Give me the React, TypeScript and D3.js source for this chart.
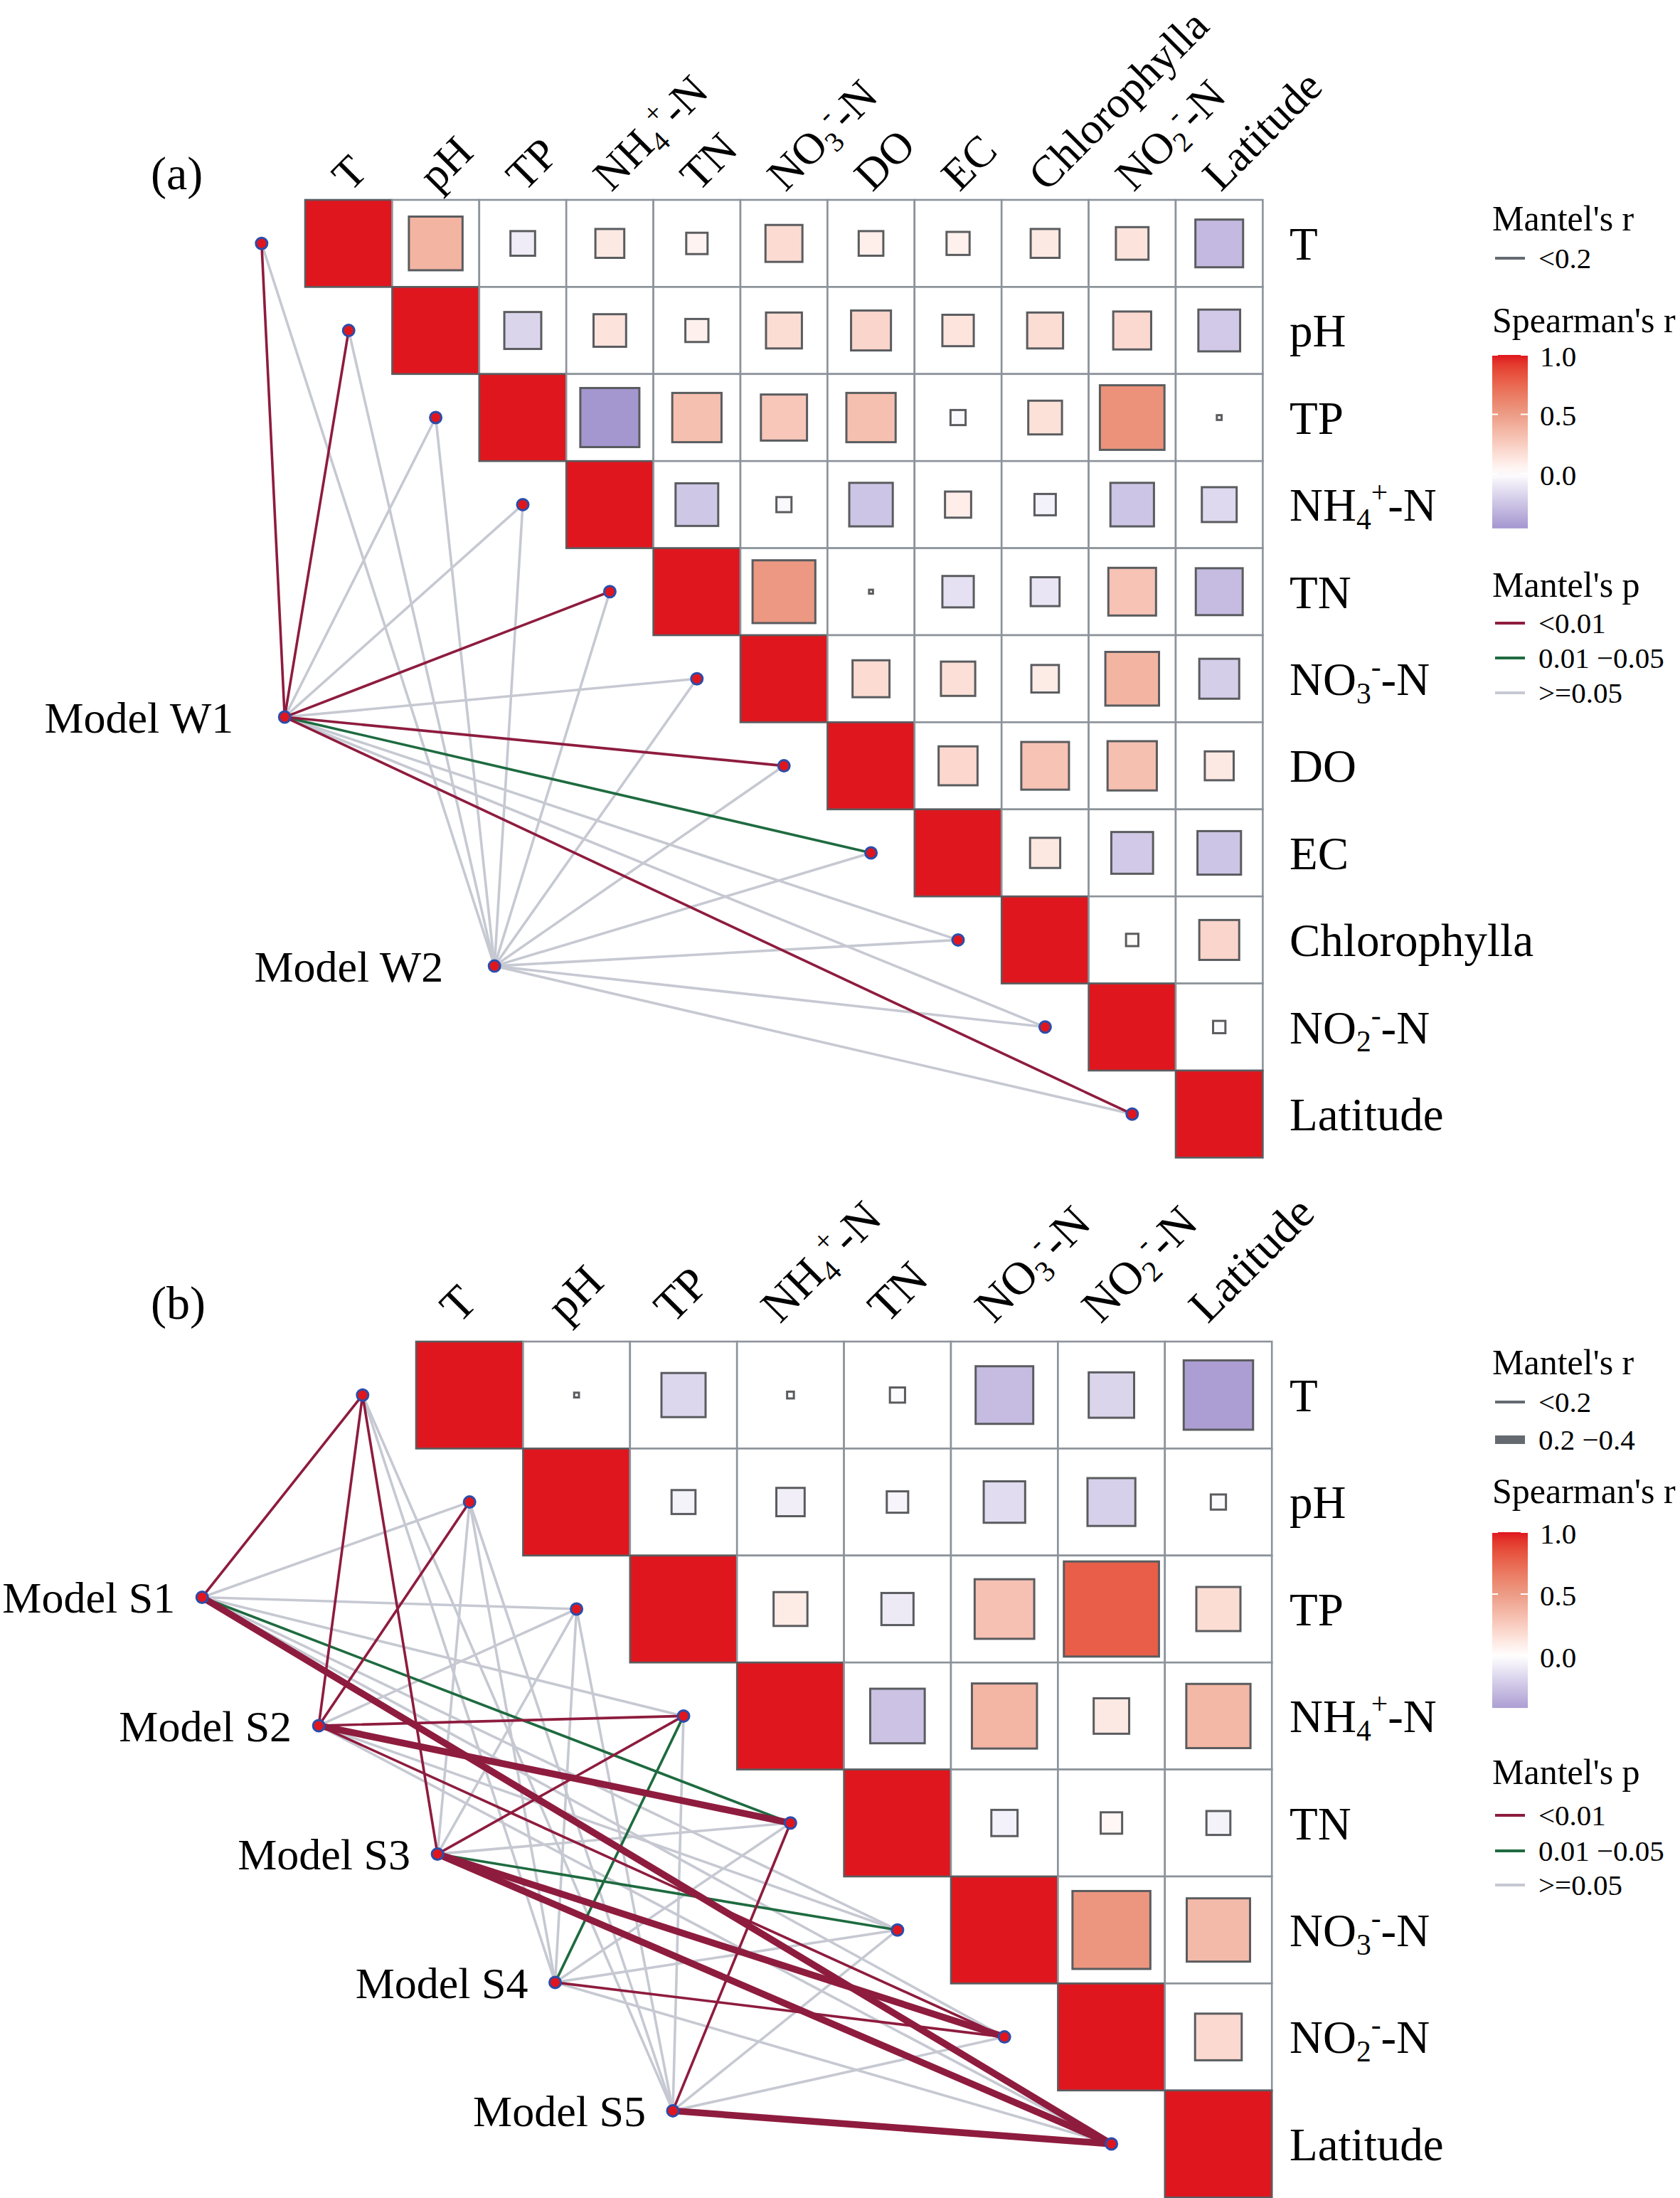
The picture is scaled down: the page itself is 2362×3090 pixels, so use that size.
import React from "react";
import * as d3 from "d3";

const W = 2362;
const H = 3090;
const FONT = "'Liberation Serif','Times New Roman',Times,serif";

// ---------------- Panel (a) data ----------------
const varsA = ["T", "pH", "TP", "NH_4^+-N", "TN", "NO_3^--N", "DO", "EC", "Chlorophylla", "NO_2^--N", "Latitude"];
// Spearman's r, upper triangle, row i holds columns j > i
const corrA: number[][] = [
  [0.38, -0.08, 0.11, 0.06, 0.18, 0.08, 0.07, 0.11, 0.14, -0.30],
  [-0.18, 0.14, 0.07, 0.17, 0.21, 0.13, 0.17, 0.19, -0.23],
  [-0.46, 0.32, 0.28, 0.32, -0.03, 0.15, 0.55, 0.003],
  [-0.24, -0.03, -0.25, 0.09, -0.06, -0.25, -0.16],
  [0.52, 0.002, -0.13, -0.11, 0.30, -0.29],
  [0.18, 0.155, 0.10, 0.38, -0.21],
  [0.20, 0.30, 0.32, 0.11],
  [0.12, -0.23, -0.25],
  [0.02, 0.21],
  [-0.02],
];
const modelsA = ["Model W1", "Model W2"];
const mantelPA: string[][] = [
  ["<0.01", "<0.01", ">=0.05", ">=0.05", "<0.01", ">=0.05", "<0.01", "0.01-0.05", ">=0.05", ">=0.05", "<0.01"],
  [">=0.05", ">=0.05", ">=0.05", ">=0.05", ">=0.05", ">=0.05", ">=0.05", ">=0.05", ">=0.05", ">=0.05", ">=0.05"],
];
const mantelRA: string[][] = [
  ["<0.2", "<0.2", "<0.2", "<0.2", "<0.2", "<0.2", "<0.2", "<0.2", "<0.2", "<0.2", "<0.2"],
  ["<0.2", "<0.2", "<0.2", "<0.2", "<0.2", "<0.2", "<0.2", "<0.2", "<0.2", "<0.2", "<0.2"],
];
const legendRA = ["<0.2"];

// ---------------- Panel (b) data ----------------
const varsB = ["T", "pH", "TP", "NH_4^+-N", "TN", "NO_3^--N", "NO_2^--N", "Latitude"];
const corrB: number[][] = [
  [0.002, -0.17, 0.004, -0.02, -0.29, -0.18, -0.42],
  [-0.05, -0.07, -0.04, -0.15, -0.2, -0.02],
  [0.10, -0.09, 0.31, 0.79, 0.17],
  [-0.26, 0.37, 0.11, 0.36],
  [-0.06, 0.04, -0.05],
  [0.53, 0.35],
  [0.19],
];
const modelsB = ["Model S1", "Model S2", "Model S3", "Model S4", "Model S5"];
const mantelPB: string[][] = [
  ["<0.01", ">=0.05", ">=0.05", ">=0.05", "0.01-0.05", ">=0.05", ">=0.05", "<0.01"],
  ["<0.01", "<0.01", ">=0.05", "<0.01", "<0.01", ">=0.05", "<0.01", ">=0.05"],
  ["<0.01", ">=0.05", ">=0.05", "<0.01", ">=0.05", "0.01-0.05", "<0.01", "<0.01"],
  [">=0.05", ">=0.05", ">=0.05", "0.01-0.05", ">=0.05", ">=0.05", "<0.01", ">=0.05"],
  [">=0.05", ">=0.05", ">=0.05", ">=0.05", "<0.01", ">=0.05", ">=0.05", "<0.01"],
];
const mantelRB: string[][] = [
  ["<0.2", "<0.2", "<0.2", "<0.2", "<0.2", "<0.2", "<0.2", "0.2-0.4"],
  ["<0.2", "<0.2", "<0.2", "<0.2", "0.2-0.4", "<0.2", "<0.2", "<0.2"],
  ["<0.2", "<0.2", "<0.2", "<0.2", "<0.2", "<0.2", "0.2-0.4", "0.2-0.4"],
  ["<0.2", "<0.2", "<0.2", "<0.2", "<0.2", "<0.2", "<0.2", "<0.2"],
  ["<0.2", "<0.2", "<0.2", "<0.2", "<0.2", "<0.2", "<0.2", "0.2-0.4"],
];
const legendRB = ["<0.2", "0.2-0.4"];

const pLevels = ["<0.01", "0.01-0.05", ">=0.05"];
const pLabels = ["<0.01", "0.01 \u22120.05", ">=0.05"];
const rLabelMap: Record<string, string> = { "<0.2": "<0.2", "0.2-0.4": "0.2 \u22120.4" };
const colorTicks = [1.0, 0.5, 0.0];

// ---------------- styles ----------------
const pColor = d3.scaleOrdinal<string, string>().domain(pLevels).range(["#8E1C3E", "#1E6B40", "#C6C9D2"]);
const rWidth = d3.scaleOrdinal<string, number>().domain(["<0.2", "0.2-0.4"]).range([3.6, 9.5]);
const rLegendWidth = d3.scaleOrdinal<string, number>().domain(["<0.2", "0.2-0.4"]).range([4, 12]);
const fill = d3
  .scaleLinear<string>()
  .domain([-0.5, 0, 0.5, 1])
  .range(["#9C8DCB", "#FFFFFF", "#EC9C86", "#E0161E"])
  .interpolate(d3.interpolateLab)
  .clamp(true);
const DIAG = "#E0161E";

function RichText({ s, fs }: { s: string; fs: number }) {
  const segs: { t: string; k: "n" | "sub" | "sup" }[] = [];
  let buf = "";
  for (let i = 0; i < s.length; i++) {
    const c = s[i];
    if ((c === "_" || c === "^") && i + 1 < s.length) {
      if (buf) segs.push({ t: buf, k: "n" });
      buf = "";
      segs.push({ t: s[i + 1], k: c === "_" ? "sub" : "sup" });
      i++;
    } else buf += c;
  }
  if (buf) segs.push({ t: buf, k: "n" });
  let cur = 0;
  return (
    <>
      {segs.map((g, i) => {
        const target = g.k === "n" ? 0 : g.k === "sub" ? 0.18 * fs : -0.4 * fs;
        const dy = target - cur;
        cur = target;
        return (
          <tspan key={i} dy={dy} fontSize={g.k === "n" ? fs : 0.64 * fs}>
            {g.t}
          </tspan>
        );
      })}
    </>
  );
}

type PanelCfg = {
  id: string;
  tag: string;
  tagX: number;
  tagY: number;
  vars: string[];
  corr: number[][];
  models: string[];
  mp: string[][];
  mr: string[][];
  left: number;
  top: number;
  cell: number;
  modelCells: [number, number][];
  modelGap: number;
  colDx: number;
  colDy: number;
  colFs: number;
  legend: {
    rTitle: number;
    rItems: number[];
    rLevels: string[];
    sTitle: number;
    barTop: number;
    unit: number;
    pTitle: number;
    pItems: number[];
  };
};

function Panel({ c }: { c: PanelCfg }) {
  const n = c.vars.length;
  const x = d3.scaleBand<string>().domain(c.vars).range([c.left, c.left + n * c.cell]);
  const y = d3.scaleBand<string>().domain(c.vars).range([c.top, c.top + n * c.cell]);
  const cs = c.cell;
  const fs = 65;
  const nodes = c.vars.map((v) => ({ x: (x(v) as number) - cs / 2, y: (y(v) as number) + cs / 2 }));
  const mpos = c.modelCells.map(([cx, cy]) => ({ x: c.left + cx * cs, y: c.top + cy * cs }));

  const edges: { m: number; v: number; p: string; r: string }[] = [];
  c.models.forEach((_, m) => c.vars.forEach((_, v) => edges.push({ m, v, p: c.mp[m][v], r: c.mr[m][v] })));
  const order = (e: { p: string; r: string }) => (e.p === ">=0.05" ? 0 : e.p === "0.01-0.05" ? 1 : 2) * 2 + (e.r === "<0.2" ? 0 : 1);
  edges.sort((a, b) => order(a) - order(b));

  const allR = c.corr.flat();
  const rmin = d3.min(allR) as number;
  const L = c.legend;
  const barBottom = L.barTop + (1 - rmin) * L.unit;
  const barY = d3.scaleLinear().domain([1, rmin]).range([L.barTop, barBottom]);
  const stops = d3.range(0, 21).map((k) => 1 - (k / 20) * (1 - rmin));
  const LX = 2098;

  return (
    <g>
      <defs>
        <linearGradient id={`grad-${c.id}`} x1="0" y1="0" x2="0" y2="1">
          {stops.map((v, k) => (
            <stop key={k} offset={`${(k / 20) * 100}%`} stopColor={fill(v)} />
          ))}
        </linearGradient>
      </defs>
      <text x={c.tagX} y={c.tagY} fontSize={66} fontFamily={FONT}>
        {c.tag}
      </text>
      {/* mantel links */}
      {edges.map((e, k) => (
        <line
          key={k}
          x1={mpos[e.m].x}
          y1={mpos[e.m].y}
          x2={nodes[e.v].x}
          y2={nodes[e.v].y}
          stroke={pColor(e.p)}
          strokeWidth={rWidth(e.r)}
          strokeLinecap="round"
        />
      ))}
      {/* correlation matrix */}
      {c.vars.map((vi, i) =>
        c.vars.slice(i).map((vj, jj) => {
          const j = i + jj;
          const cx = x(vj) as number;
          const cy = y(vi) as number;
          const r = j === i ? 1 : c.corr[i][j - i - 1];
          const side = Math.sqrt(Math.abs(r)) * cs;
          return (
            <g key={`${i}-${j}`}>
              {j > i && <rect x={cx} y={cy} width={cs} height={cs} fill="#FFFFFF" stroke="#8C939A" strokeWidth={2.6} />}
              <rect
                x={cx + (cs - side) / 2}
                y={cy + (cs - side) / 2}
                width={side}
                height={side}
                fill={j === i ? DIAG : fill(r)}
                stroke="#5A5C5F"
                strokeWidth={j === i ? 2.6 : 3}
              />
            </g>
          );
        })
      )}
      {/* nodes */}
      {nodes.concat(mpos).map((p, k) => (
        <circle key={k} cx={p.x} cy={p.y} r={8} fill="#E0161E" stroke="#2B4DAA" strokeWidth={3} />
      ))}
      {/* model labels */}
      {c.models.map((m, k) => (
        <text key={m} x={mpos[k].x - c.modelGap} y={mpos[k].y} dy="0.35em" textAnchor="end" fontSize={62} fontFamily={FONT}>
          {m}
        </text>
      ))}
      {/* column labels */}
      {c.vars.map((v) => {
        const ax = (x(v) as number) + cs / 2 + c.colDx;
        const ay = c.top + c.colDy;
        return (
          <text key={v} transform={`translate(${ax},${ay}) rotate(-45)`} fontSize={c.colFs} fontFamily={FONT}>
            <RichText s={v} fs={c.colFs} />
          </text>
        );
      })}
      {/* row labels */}
      {c.vars.map((v) => (
        <text key={v} x={1813} y={(y(v) as number) + cs / 2 + 0.35 * fs} fontSize={fs} fontFamily={FONT}>
          <RichText s={v} fs={fs} />
        </text>
      ))}
      {/* legend */}
      <text x={LX} y={L.rTitle} dy="0.35em" fontSize={50} fontFamily={FONT}>
        Mantel's r
      </text>
      {L.rLevels.map((lv, k) => (
        <g key={lv}>
          <line x1={2102} x2={2144} y1={L.rItems[k]} y2={L.rItems[k]} stroke="#646A70" strokeWidth={rLegendWidth(lv)} />
          <text x={2163} y={L.rItems[k]} dy="0.35em" fontSize={41} fontFamily={FONT}>
            {rLabelMap[lv]}
          </text>
        </g>
      ))}
      <text x={LX} y={L.sTitle} dy="0.3em" fontSize={50} fontFamily={FONT}>
        Spearman's r
      </text>
      <rect x={LX} y={L.barTop} width={50} height={barBottom - L.barTop} fill={`url(#grad-${c.id})`} />
      {colorTicks.map((t) => (
        <g key={t}>
          <line x1={LX + 40} x2={LX + 50} y1={barY(t)} y2={barY(t)} stroke="#FFFFFF" strokeWidth={2} />
          <line x1={LX} x2={LX + 8} y1={barY(t)} y2={barY(t)} stroke="#FFFFFF" strokeWidth={2} />
          <text x={2165} y={barY(t)} dy="0.38em" fontSize={41} fontFamily={FONT}>
            {d3.format(".1f")(t)}
          </text>
        </g>
      ))}
      <text x={LX} y={L.pTitle} dy="0.35em" fontSize={50} fontFamily={FONT}>
        Mantel's p
      </text>
      {pLevels.map((lv, k) => (
        <g key={lv}>
          <line x1={2102} x2={2144} y1={L.pItems[k]} y2={L.pItems[k]} stroke={pColor(lv)} strokeWidth={4} />
          <text x={2163} y={L.pItems[k]} dy="0.35em" fontSize={41} fontFamily={FONT}>
            {pLabels[k]}
          </text>
        </g>
      ))}
    </g>
  );
}

const panelA: PanelCfg = {
  id: "a",
  tag: "(a)",
  tagX: 212,
  tagY: 266,
  vars: varsA,
  corr: corrA,
  models: modelsA,
  mp: mantelPA,
  mr: mantelRA,
  left: 429,
  top: 281,
  cell: 122.4,
  modelCells: [
    [-0.235, 5.94],
    [2.175, 8.8],
  ],
  modelGap: 72,
  colDx: 2,
  colDy: -10,
  colFs: 62,
  legend: {
    rTitle: 306,
    rItems: [363],
    rLevels: legendRA,
    sTitle: 452,
    barTop: 499,
    unit: 167,
    pTitle: 821,
    pItems: [876, 925, 974],
  },
};

const panelB: PanelCfg = {
  id: "b",
  tag: "(b)",
  tagX: 212,
  tagY: 1854,
  vars: varsB,
  corr: corrB,
  models: modelsB,
  mp: mantelPB,
  mr: mantelRB,
  left: 585,
  top: 1886,
  cell: 150.4,
  modelCells: [
    [-2.0, 2.39],
    [-0.91, 3.59],
    [0.2, 4.79],
    [1.3, 5.99],
    [2.4, 7.19],
  ],
  modelGap: 38,
  colDx: -15,
  colDy: -24,
  colFs: 65,
  legend: {
    rTitle: 1914,
    rItems: [1971, 2024],
    rLevels: legendRB,
    sTitle: 2098,
    barTop: 2154,
    unit: 174,
    pTitle: 2490,
    pItems: [2552, 2602, 2650],
  },
};

export default function App() {
  return (
    <svg
      width={W}
      height={H}
      viewBox={`0 0 ${W} ${H}`}
      style={{ position: "absolute", left: 0, top: 0, background: "#FFFFFF" }}
    >
      <rect width={W} height={H} fill="#FFFFFF" />
      <Panel c={panelA} />
      <Panel c={panelB} />
    </svg>
  );
}
